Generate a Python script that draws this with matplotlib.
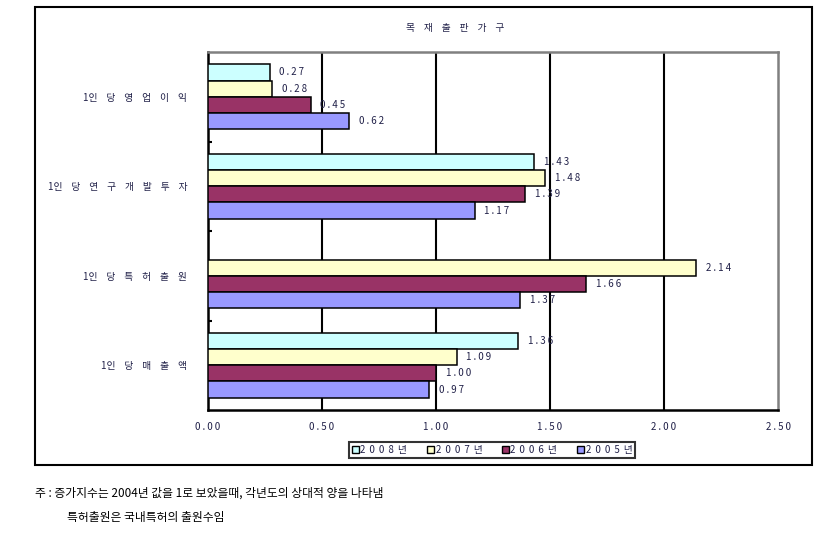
import numpy as np
import matplotlib
matplotlib.use("Agg")
import matplotlib.pyplot as plt
from matplotlib.patches import Rectangle, Patch

plt.rcParams['font.family'] = ['Noto Sans CJK KR', 'DejaVu Sans']

Title = "목 재 출 판 가 구"
Categories = ["1인 당 영 업 이 익", "1인 당 연 구 개 발 투 자", "1인 당 특 허 출 원", "1인 당 매 출 액"]
Years = ["2008년", "2007년", "2006년", "2005년"]
Colors = ["#CCFFFF", "#FFFFCC", "#993366", "#9999FF"]

Y2008 = [0.27, 1.43, np.nan, 1.36]
Y2007 = [0.28, 1.48, 2.14, 1.09]
Y2006 = [0.45, 1.39, 1.66, 1.00]
Y2005 = [0.62, 1.17, 1.37, 0.97]
Series = [Y2008, Y2007, Y2006, Y2005]

XTicks = [0.0, 0.5, 1.0, 1.5, 2.0, 2.5]

Note1 = "주 : 증가지수는 2004년 값을 1로 보았을때, 각년도의 상대적 양을 나타냄"
Note2 = "특허출원은 국내특허의 출원수임"

TextCol = "#202048"

def spaced(s, sep="\u2009"):
    return sep.join(s)

def wide(s):
    # korean labels in the original have wide letter gaps
    return s.replace(" ", "\u2002\u2009\u2009")

W, H = 839, 547
fig = plt.figure(figsize=(W/100, H/100), dpi=100)

# outer frame
fig.patches.append(Rectangle((35/W, 1-465/H), 777/W, 458/H, transform=fig.transFigure,
                             fill=False, edgecolor='black', linewidth=1.5))

ax = fig.add_axes([208/W, 1-410/H, 570/W, 358/H])

h = 0.725/4
pos = np.arange(len(Categories))
for k in range(4):
    offs = pos + (k-1.5)*h
    ax.barh(offs, Series[k], height=h, color=Colors[k], edgecolor='black', linewidth=1.1, zorder=3)
    for y, v in zip(offs, Series[k]):
        if np.isnan(v):
            continue
        ax.annotate(spaced("%.2f" % v), xy=(v, y), xytext=(7, 0), textcoords='offset points',
                    va='center', ha='left', fontsize=7, color=TextCol, zorder=4)

ax.set_xlim(0, 2.5)
ax.set_ylim(3.5, -0.5)
ax.set_xticks(XTicks)
ax.set_xticklabels([spaced("%.2f" % t) for t in XTicks], fontsize=7, color=TextCol)
ax.tick_params(axis='x', length=0, pad=9)
ax.set_yticks(pos)
ax.set_yticklabels([wide(c) for c in Categories], fontsize=7, color=TextCol)
ax.tick_params(axis='y', which='major', length=0, pad=15)
ax.set_yticks([0.5, 1.5, 2.5], minor=True)
ax.tick_params(axis='y', which='minor', direction='in', length=3, width=1.5)

for g in XTicks[1:-1]:
    ax.axvline(g, color='black', linewidth=1.5, zorder=1)

ax.spines['left'].set_linewidth(1.8)
ax.spines['bottom'].set_linewidth(1.8)
ax.spines['top'].set_color('#808080')
ax.spines['right'].set_color('#808080')
ax.spines['top'].set_linewidth(1.8)
ax.spines['right'].set_linewidth(1.8)

fig.text(455/W, 1-28/H, wide(Title), fontsize=7, color=TextCol, ha='center', va='center')

handles = [Patch(facecolor=c, edgecolor='black', linewidth=1.0) for c in Colors]
leg = fig.legend(handles, [spaced(y, "\u2009\u2009") for y in Years], ncol=4, loc='center',
                 bbox_to_anchor=(492/W, 1-450/H), fontsize=7, frameon=True, fancybox=False,
                 handlelength=0.7, handleheight=0.7, handletextpad=0.2, columnspacing=2.0,
                 borderpad=0.3, labelcolor=TextCol)
leg.get_frame().set_edgecolor('black')
leg.get_frame().set_linewidth(1.5)

fig.text(35/W, 1-493/H, Note1, fontsize=8.5, color='black', ha='left', va='center')
fig.text(67/W, 1-518/H, Note2, fontsize=8.5, color='black', ha='left', va='center')

fig.savefig("out.png", dpi=100)
